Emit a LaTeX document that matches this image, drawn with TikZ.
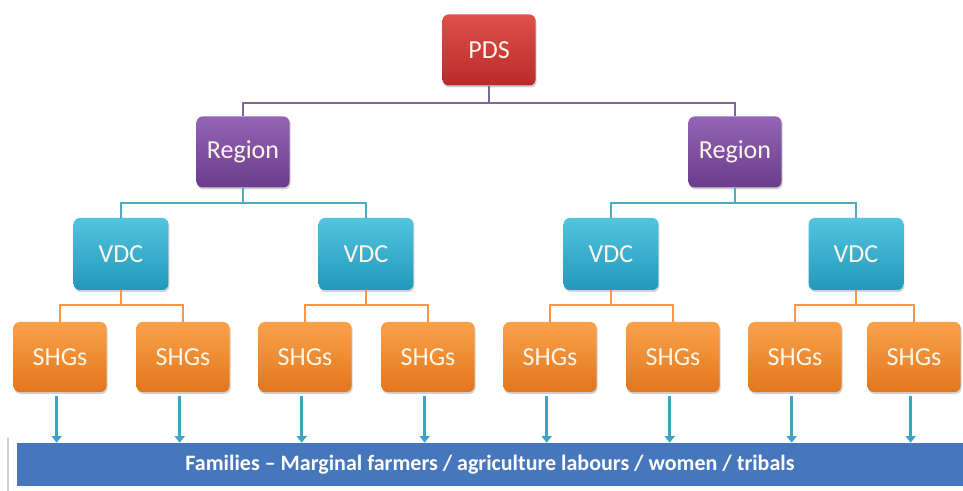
\documentclass[tikz,border=0pt]{standalone}
\usepackage{fontspec}
\setmainfont{Carlito}
\usetikzlibrary{shadows,arrows.meta}
\definecolor{pdsTop}{HTML}{E0504A}
\definecolor{pdsBot}{HTML}{B92A2A}
\definecolor{regTop}{HTML}{9465B5}
\definecolor{regBot}{HTML}{6C3C8C}
\definecolor{vdcTop}{HTML}{52C4E0}
\definecolor{vdcBot}{HTML}{2398BA}
\definecolor{shgTop}{HTML}{F9A24A}
\definecolor{shgBot}{HTML}{E2761E}
\definecolor{purpleLine}{HTML}{8064A2}
\definecolor{tealLine}{HTML}{4BACC6}
\definecolor{orangeLine}{HTML}{F79646}
\definecolor{bandBlue}{HTML}{4677BD}
\definecolor{arrowTeal}{HTML}{3DA5C2}
\definecolor{boxText}{HTML}{FFF6EA}
\tikzset{
  box/.style={rounded corners=4.5pt, minimum width=69.75pt, minimum height=53.25pt,
    inner sep=0pt, text=boxText, font=\fontsize{19.5}{23}\selectfont,
    drop shadow={shadow xshift=0.8pt, shadow yshift=-1.5pt, opacity=0.35}},
  pdsbox/.style={box, top color=pdsTop, bottom color=pdsBot},
  regbox/.style={box, top color=regTop, bottom color=regBot},
  vdcbox/.style={box, top color=vdcTop, bottom color=vdcBot, minimum width=71pt, minimum height=54pt},
  shgbox/.style={box, top color=shgTop, bottom color=shgBot, minimum height=52.5pt},
  pline/.style={draw=purpleLine, line width=2.2pt},
  tline/.style={draw=tealLine, line width=2.2pt},
  oline/.style={draw=orangeLine, line width=2.2pt},
  famarrow/.style={draw=arrowTeal, line width=2.4pt, -{Triangle[width=7.5pt,length=5pt]}},
  band/.style={fill=bandBlue, minimum width=709.5pt, minimum height=32.25pt, inner sep=0pt,
    text=white, font=\fontsize{16.5}{19}\selectfont\bfseries}
}
\begin{document}
\begin{tikzpicture}[x=0.75pt,y=-0.75pt]
\useasboundingbox (0,0) rectangle (963,491);
\fill[white] (0,0) rectangle (963,491);

% bus coordinates
\coordinate (bus1) at (0,103);
\coordinate (bus2) at (0,203);
\coordinate (bus3) at (0,305);

% nodes
\node[pdsbox] (pds) at (489,50) {PDS};
\node[regbox] (r1) at (243,152) {Region};
\node[regbox] (r2) at (735,152) {Region};
\node[vdcbox] (v1) at (121,254) {VDC};
\node[vdcbox] (v2) at (366,254) {VDC};
\node[vdcbox] (v3) at (611,254) {VDC};
\node[vdcbox] (v4) at (856,254) {VDC};
\node[shgbox] (s1) at (60,357) {SHGs};
\node[shgbox] (s2) at (183,357) {SHGs};
\node[shgbox] (s3) at (305,357) {SHGs};
\node[shgbox] (s4) at (428,357) {SHGs};
\node[shgbox] (s5) at (550,357) {SHGs};
\node[shgbox] (s6) at (673,357) {SHGs};
\node[shgbox] (s7) at (795,357) {SHGs};
\node[shgbox] (s8) at (914,357) {SHGs};
\node[band] (band) at (490,464.5) {Families -- Marginal farmers / agriculture labours / women / tribals};

% left gray edge line
\draw[gray!35, line width=0.8pt] (8,438) -- (8,491);

% connectors
\draw[pline] (pds.south) -- (pds.south |- bus1);
\draw[pline] (r1.north) -- (r1.north |- bus1) -- (r2.north |- bus1) -- (r2.north);

\draw[tline] (r1.south) -- (r1.south |- bus2);
\draw[tline] (v1.north) -- (v1.north |- bus2) -- (v2.north |- bus2) -- (v2.north);
\draw[tline] (r2.south) -- (r2.south |- bus2);
\draw[tline] (v3.north) -- (v3.north |- bus2) -- (v4.north |- bus2) -- (v4.north);

\draw[oline] (v1.south) -- (v1.south |- bus3);
\draw[oline] (s1.north) -- (s1.north |- bus3) -- (s2.north |- bus3) -- (s2.north);
\draw[oline] (v2.south) -- (v2.south |- bus3);
\draw[oline] (s3.north) -- (s3.north |- bus3) -- (s4.north |- bus3) -- (s4.north);
\draw[oline] (v3.south) -- (v3.south |- bus3);
\draw[oline] (s5.north) -- (s5.north |- bus3) -- (s6.north |- bus3) -- (s6.north);
\draw[oline] (v4.south) -- (v4.south |- bus3);
\draw[oline] (s7.north) -- (s7.north |- bus3) -- (s8.north |- bus3) -- (s8.north);

% arrows to families
\foreach \s in {s1,s2,s3,s4,s5,s6,s7,s8}{
  \draw[famarrow] ([xshift=-2.5pt,yshift=-3pt]\s.south) -- ([xshift=-2.5pt]\s.south |- band.north);
}
\end{tikzpicture}
\end{document}
